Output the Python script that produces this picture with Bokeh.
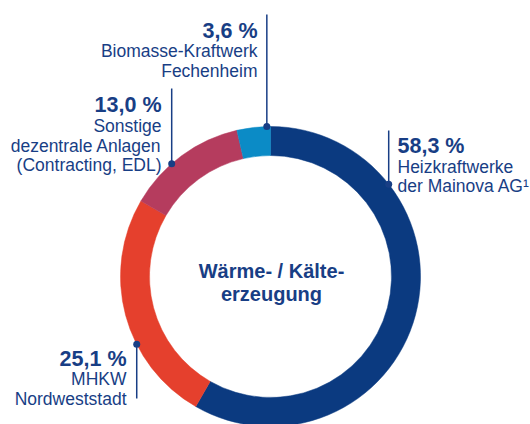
import math
from bokeh.plotting import figure
from bokeh.models import Range1d
from bokeh.embed import file_html
from bokeh.resources import INLINE
from bokeh.core.properties import value

# ---- data ----
shares = [58.3, 25.1, 13.0, 3.6]
pct_labels = ["58,3 %", "25,1 %", "13,0 %", "3,6 %"]
names = [
    ["Heizkraftwerke", "der Mainova AG¹"],
    ["MHKW", "Nordweststadt"],
    ["Sonstige", "dezentrale Anlagen", "(Contracting, EDL)"],
    ["Biomasse-Kraftwerk", "Fechenheim"],
]
colors = ["#0b3a80", "#e5402d", "#b53c5e", "#0b8bc6"]
center_title = ["Wärme- / Kälte-", "erzeugung"]

TEXT = "#183e85"
FONT = "Liberation Sans"

# ---- layout (pixel coordinates of the 530x424 picture) ----
W, H = 530, 424
CX, CY = 270, 276
R_OUT, R_IN = 150, 121

# per segment: dot angle (deg clockwise from top), leader end y, text x, align, pct baseline, line gaps
label_layout = [
    dict(ang=52, end=130, tx=397, align="left", base=145, gaps=[21, 40]),
    dict(ang=243.1, end=398, tx=126, align="right", base=358, gaps=[20, 40]),
    dict(ang=318.8, end=88, tx=161, align="right", base=104, gaps=[21, 41, 60]),
    dict(ang=358.6, end=14, tx=257, align="right", base=30, gaps=[20, 40]),
]


def Y(py):
    return -py


p = figure(width=W, height=H, output_backend="svg", toolbar_location=None,
           x_range=Range1d(0, W), y_range=Range1d(-H, 0),
           min_border=0, outline_line_color=None, background_fill_color="white",
           border_fill_color="white")
p.axis.visible = False
p.grid.visible = False

# ---- donut (clockwise from 12 o'clock) ----
total = sum(shares)
cum = 0.0
for s, c in zip(shares, colors):
    a0 = math.pi / 2 - 2 * math.pi * cum / total
    cum += s
    a1 = math.pi / 2 - 2 * math.pi * cum / total
    p.annular_wedge(x=CX, y=Y(CY), inner_radius=R_IN, outer_radius=R_OUT,
                    start_angle=a0, end_angle=a1, direction="clock",
                    fill_color=c, line_color=c, line_width=0.5)

# ---- leaders and labels ----
for pct, nm, lay in zip(pct_labels, names, label_layout):
    th = math.radians(lay["ang"])
    dx = CX + R_OUT * math.sin(th)
    dy = CY - R_OUT * math.cos(th)
    p.line(x=[dx, dx], y=[Y(dy), Y(lay["end"])], line_color=TEXT, line_width=1.5)
    p.scatter(x=[dx], y=[Y(dy)], size=7, fill_color=TEXT, line_color=None)
    p.text(x=[lay["tx"]], y=[Y(lay["base"])], text=[pct], text_font=value(FONT),
           text_font_size="21.5px", text_font_style="bold", text_color=TEXT,
           text_align=lay["align"], text_baseline="alphabetic")
    for line, g in zip(nm, lay["gaps"]):
        p.text(x=[lay["tx"]], y=[Y(lay["base"] + g)], text=[line], text_font=value(FONT),
               text_font_size="17.5px", text_color=TEXT,
               text_align=lay["align"], text_baseline="alphabetic")

# ---- centre title ----
for i, t in enumerate(center_title):
    p.text(x=[271], y=[Y(270 + 23 * i)], text=[t], text_font=value(FONT),
           text_font_size="20px", text_font_style="bold", text_color=TEXT,
           text_align="center", text_baseline="alphabetic")

open("out.html", "w").write(file_html(p, INLINE))
